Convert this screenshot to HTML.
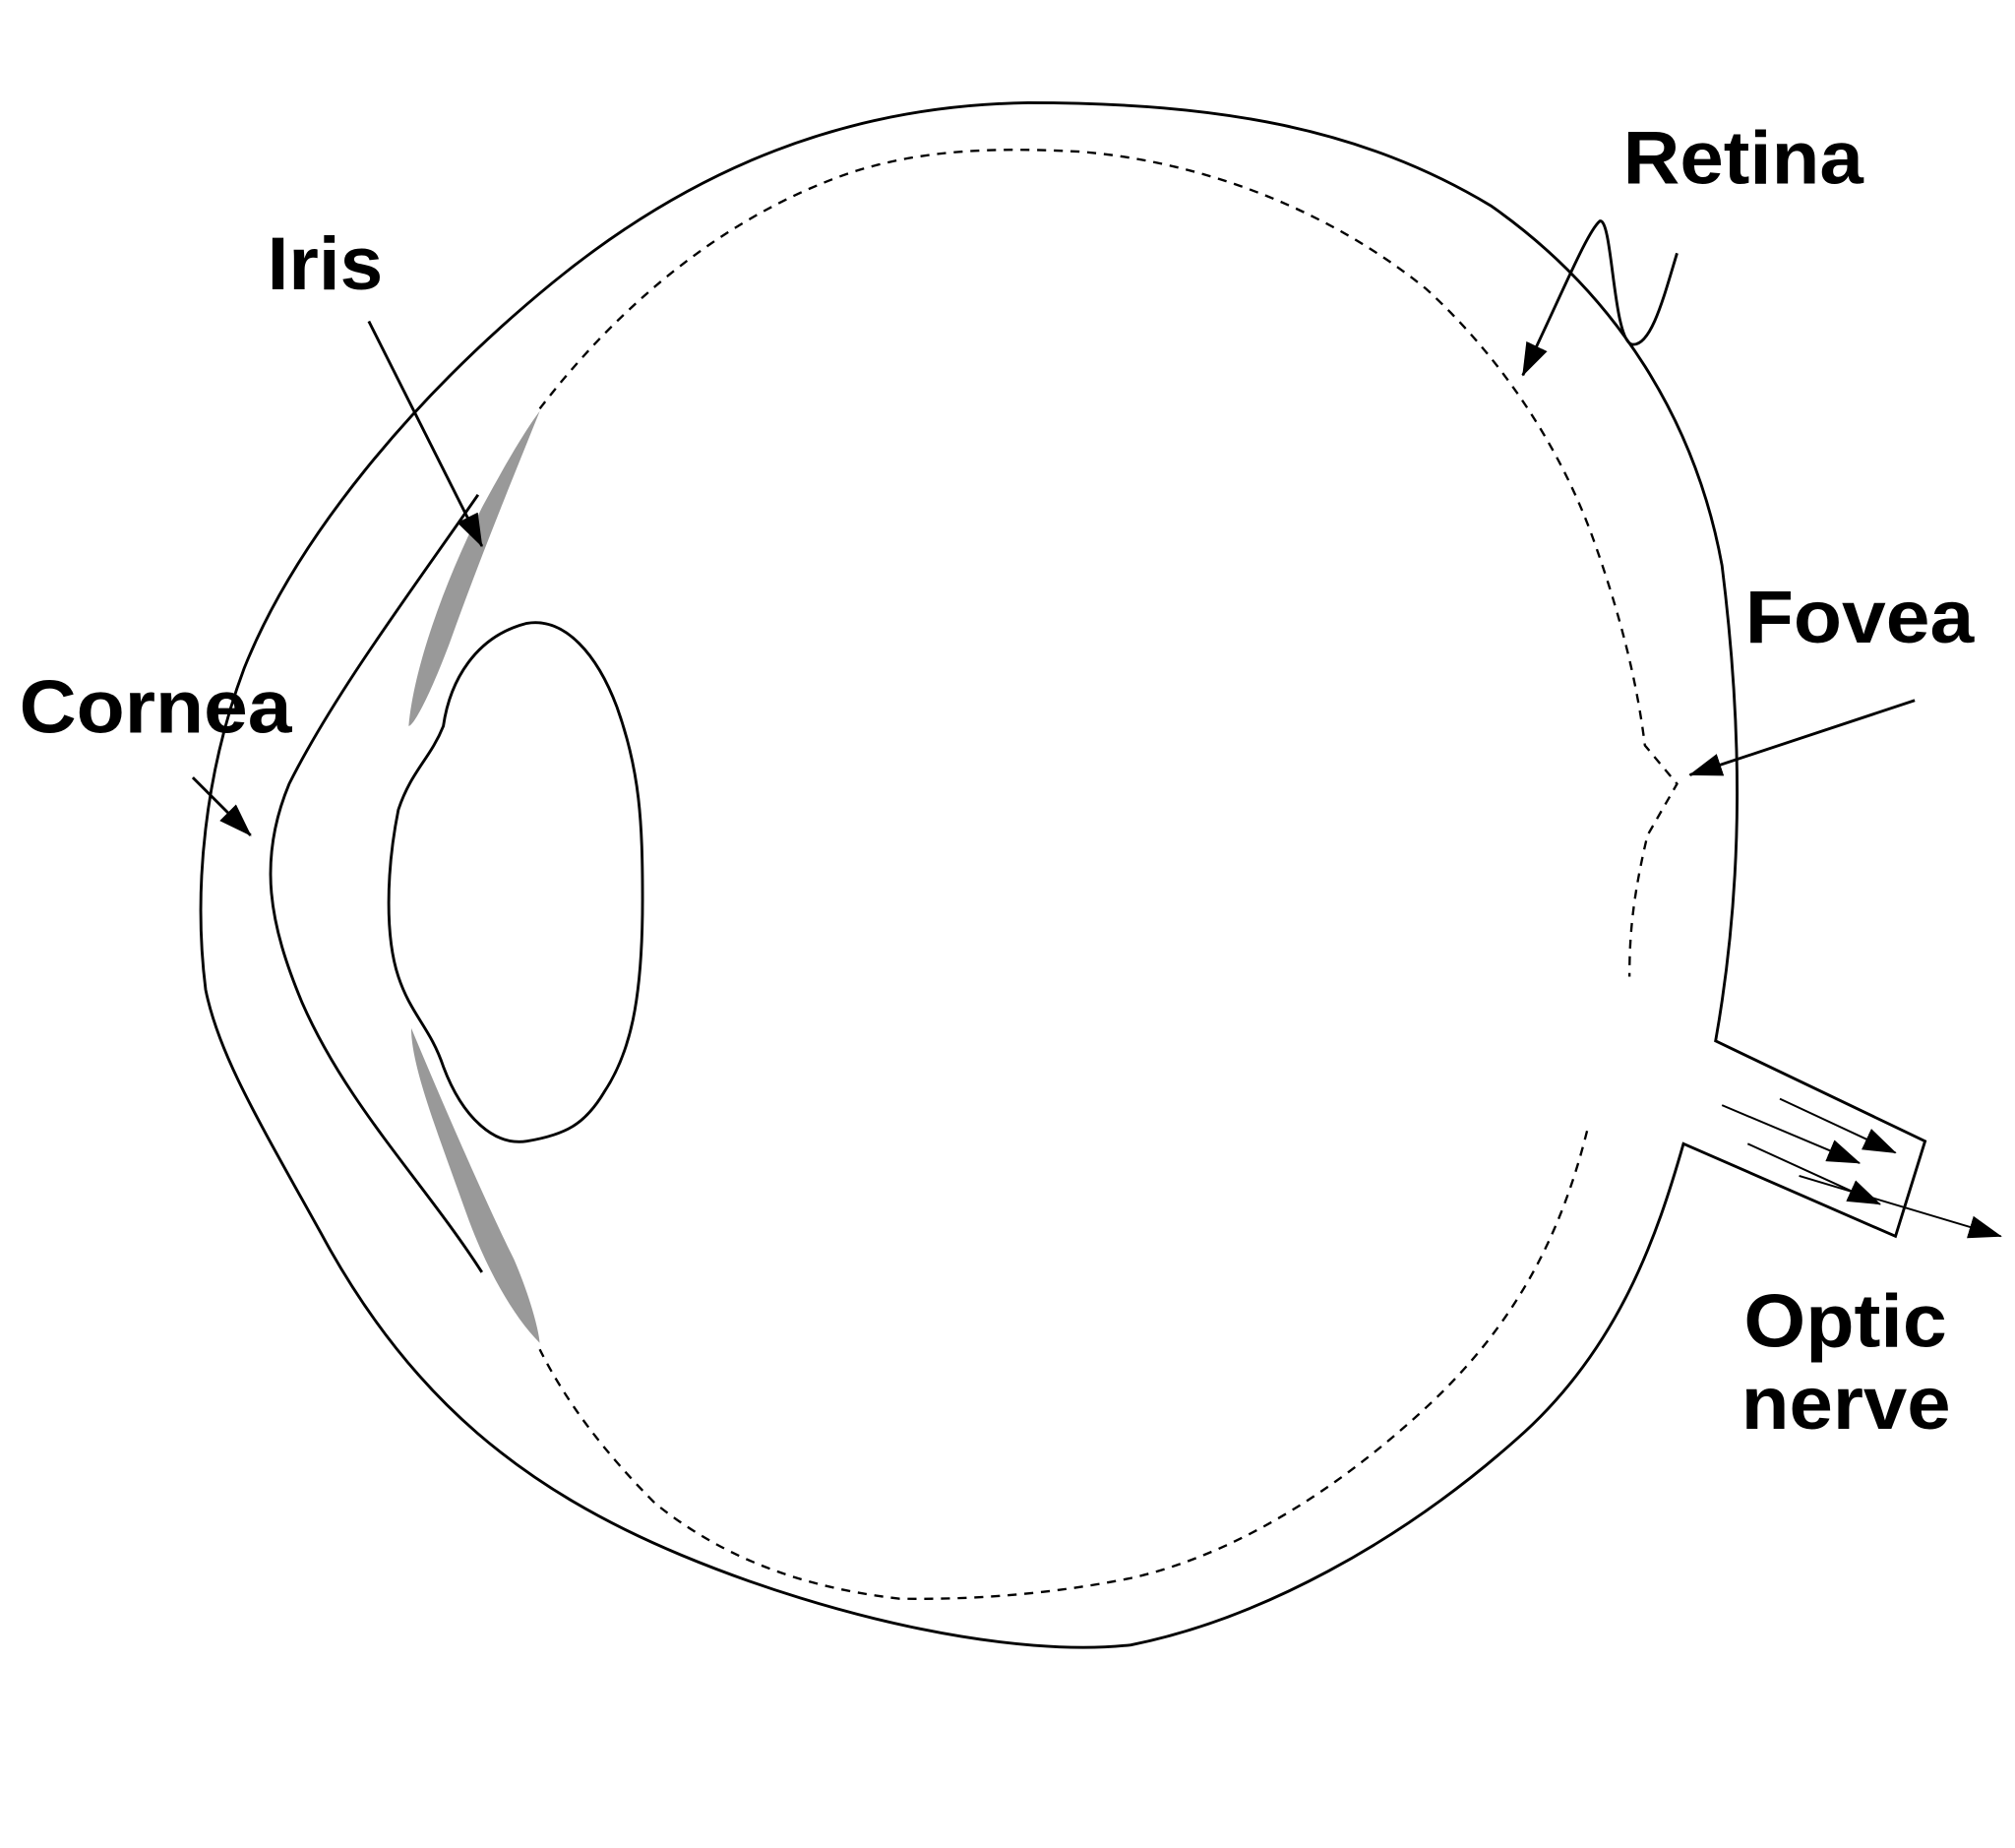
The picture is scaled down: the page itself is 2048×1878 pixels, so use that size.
<!DOCTYPE html>
<html><head><style>html,body{margin:0;padding:0;background:#fff}svg{display:block}</style></head>
<body>
<svg width="2048" height="1878" viewBox="0 0 1568 1438" preserveAspectRatio="none" xmlns="http://www.w3.org/2000/svg">
<defs>
<marker id="b" markerWidth="26" markerHeight="18" refX="25" refY="9" orient="auto" markerUnits="userSpaceOnUse" viewBox="0 0 26 18"><path d="M0,0L26,9L0,18z" fill="#000"/></marker></defs>
<path d="M420,320 C400,370 375,430 350,500 C335,540 322,565 318,565 C322,520 345,455 375,395 C395,358 410,333 420,320 Z" fill="#999"/>
<path d="M320,800 C345,860 380,940 400,980 C415,1015 420,1040 420,1045 C400,1025 380,990 365,950 C340,880 320,830 320,800 Z" fill="#999"/>
<g fill="none" stroke="#000" stroke-width="2.2">
<path d="M160,770 C150,690 160,600 190,520 C230,420 320,310 430,220 C540,130 660,82 800,80 C950,80 1060,100 1160,160 C1260,230 1320,330 1340,440 C1355,560 1358,680 1335,810 L1498,888 L1475,962 L1310,890 C1290,960 1260,1050 1180,1120 C1090,1200 980,1260 880,1280 C790,1290 650,1260 530,1210 C410,1160 320,1090 250,960 C200,870 170,820 160,770 Z"/>
<path d="M372,385 C320,460 260,540 225,610 C200,670 210,720 235,780 C270,860 330,920 375,990"/>
<path d="M410,485 C440,480 465,510 480,550 C498,600 500,640 500,700 C500,780 490,820 470,850 C455,875 440,883 410,888 C385,892 360,870 345,830 C335,800 320,790 310,760 C300,730 300,680 310,630 C320,600 335,590 345,565 C350,530 370,495 410,485 Z"/>
<path d="M420,318 C480,240 560,170 660,135 C720,115 780,115 840,118 C930,125 1030,160 1110,225 C1170,280 1215,350 1240,420 C1265,490 1275,540 1280,580 L1305,610 L1282,650 C1270,700 1268,730 1268,760" stroke-dasharray="7,6" stroke-width="1.8"/>
<path d="M1235,880 C1215,960 1180,1030 1110,1095 C1040,1160 960,1210 880,1228 C820,1240 760,1245 700,1244 C620,1235 560,1210 510,1170 C470,1130 440,1090 420,1050" stroke-dasharray="7,6" stroke-width="1.8"/>
<path d="M287,250 L375,425" marker-end="url(#b)"/>
<path d="M1305,197 C1295,230 1285,270 1270,268 C1255,265 1255,170 1245,172 C1235,180 1215,230 1185,292" marker-end="url(#b)"/>
<path d="M1490,545 L1315,603" marker-end="url(#b)"/>
<path d="M150,605 L195,650" marker-end="url(#b)"/>
<g stroke-width="1.5"><path d="M1385,855 L1475,897" marker-end="url(#b)"/>
<path d="M1340,860 L1447,905" marker-end="url(#b)"/>
<path d="M1360,890 L1463,937" marker-end="url(#b)"/>
<path d="M1400,915 L1557,962" marker-end="url(#b)"/></g>
</g>
<g font-family="Liberation Sans, sans-serif" font-weight="bold" font-size="58" fill="#000" lengthAdjust="spacingAndGlyphs">
<text x="1263" y="143" textLength="187" lengthAdjust="spacingAndGlyphs">Retina</text>
<text x="208" y="225" textLength="90" lengthAdjust="spacingAndGlyphs">Iris</text>
<text x="15" y="570" textLength="212" lengthAdjust="spacingAndGlyphs">Cornea</text>
<text x="1358" y="500" textLength="178" lengthAdjust="spacingAndGlyphs">Fovea</text>
<text x="1357" y="1048" textLength="158" lengthAdjust="spacingAndGlyphs">Optic</text>
<text x="1355" y="1112" textLength="163" lengthAdjust="spacingAndGlyphs">nerve</text>
</g>
</svg>
</body></html>
